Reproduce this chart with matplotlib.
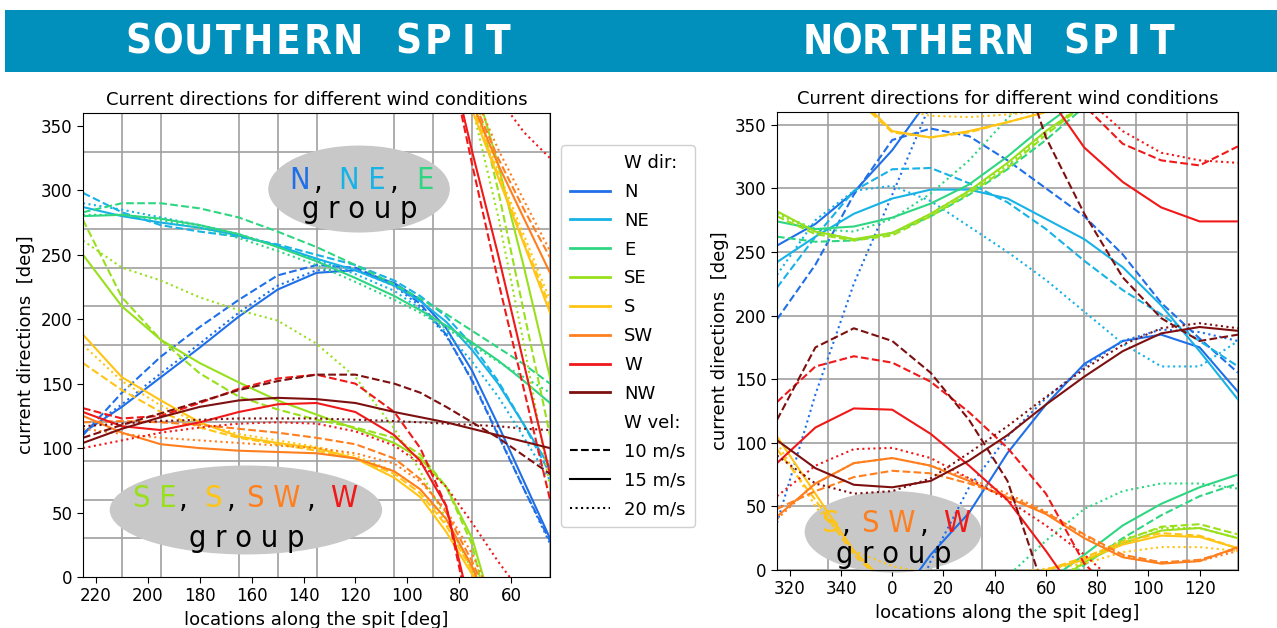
import numpy as np
import matplotlib.pyplot as plt
from matplotlib.patches import Ellipse, Rectangle
from matplotlib.lines import Line2D
from matplotlib.ticker import FuncFormatter

W, H = 1277, 628

directions = ['N', 'NE', 'E', 'SE', 'S', 'SW', 'W', 'NW']
colors = ['#1f6fe8', '#17b2e6', '#2fd682', '#98e01c', '#ffc414', '#ff7f1e', '#f01818', '#7d0f0f']
speeds = ['10 m/s', '15 m/s', '20 m/s']
styles = ['--', '-', ':']

# southern spit: locations along the spit [deg]
x_south = [225, 210, 195, 180, 165, 150, 135, 120, 105, 95, 85, 75, 65, 55, 45]
# current directions [deg], rows = 10, 15, 20 m/s (values below 0 wrap round to 360)
south_N = [[110, 143, 171, 194, 215, 234, 242, 240, 227, 212, 188, 152, 110, 68, 28],
           [112, 132, 155, 178, 202, 223, 236, 238, 228, 215, 193, 160, 118, 74, 30],
           [112, 134, 158, 181, 205, 226, 238, 238, 226, 210, 187, 153, 111, 68, 26]]
south_NE = [[298, 283, 273, 268, 264, 258, 250, 242, 230, 218, 202, 180, 152, 118, 80],
            [287, 280, 275, 271, 265, 257, 247, 238, 226, 214, 198, 176, 150, 118, 85],
            [290, 285, 279, 273, 266, 257, 246, 235, 222, 208, 190, 167, 140, 108, 75]]
south_E = [[283, 290, 290, 286, 279, 268, 256, 242, 227, 216, 204, 191, 178, 165, 150],
           [280, 281, 278, 273, 266, 256, 245, 232, 218, 207, 195, 182, 168, 152, 135],
           [281, 281, 277, 271, 263, 253, 242, 229, 215, 205, 193, 180, 167, 155, 143]]
south_SE = [[277, 217, 184, 158, 140, 130, 122, 116, 108, 95, 70, 25, -60, -155, -250],
            [250, 210, 184, 166, 151, 137, 126, 115, 104, 92, 70, 30, -40, -120, -205],
            [261, 240, 230, 217, 207, 199, 181, 155, 115, 82, 45, 5, -80, -180, -290]]
south_S = [[166, 145, 128, 116, 108, 103, 98, 92, 80, 65, 40, 5, -48, -100, -150],
           [188, 155, 137, 120, 109, 104, 100, 92, 77, 62, 35, 2, -50, -102, -155],
           [180, 152, 133, 119, 111, 106, 101, 94, 82, 68, 42, 8, -45, -95, -145]]
south_SW = [[120, 121, 120, 118, 115, 112, 108, 103, 92, 76, 50, 12, -35, -75, -112],
            [125, 112, 103, 100, 98, 97, 96, 92, 82, 68, 45, 8, -40, -82, -124],
            [115, 111, 108, 106, 104, 102, 100, 96, 88, 74, 52, 18, -28, -68, -107]]
south_W = [[131, 123, 125, 135, 146, 154, 157, 150, 128, 100, 55, -40, -130, -215, -300],
           [128, 117, 114, 120, 128, 134, 135, 128, 110, 90, 55, -30, -110, -195, -280],
           [100, 106, 112, 116, 119, 120, 119, 113, 102, 88, 70, 42, 12, -15, -35]]
south_NW = [[108, 118, 127, 136, 145, 152, 157, 157, 150, 143, 132, 120, 108, 94, 80],
            [104, 115, 124, 132, 137, 139, 138, 135, 128, 124, 120, 115, 110, 105, 100],
            [117, 119, 121, 122, 123, 123, 123, 122, 121, 120, 119, 118, 117, 115, 114]]

# northern spit: locations along the spit [deg] (-45 = 315)
x_north = [-45, -30, -15, 0, 15, 30, 45, 60, 75, 90, 105, 120, 135]
north_N = [[197, 240, 295, 338, 347, 341, 322, 300, 278, 248, 210, 182, 155],
           [255, 272, 297, 330, 372, 405, 452, 490, 522, 540, 545, 535, 500],
           [37, 138, 225, 295, 367, 425, 465, 495, 520, 540, 549, 547, 540]]
north_NE = [[222, 262, 298, 315, 316, 304, 289, 268, 243, 220, 201, 180, 160],
            [242, 262, 280, 292, 299, 299, 292, 276, 260, 238, 208, 172, 134],
            [232, 275, 298, 302, 290, 270, 250, 228, 203, 178, 160, 160, 180]]
north_E = [[262, 258, 259, 265, 278, 295, 315, 338, 364, 385, 403, 418, 428],
           [274, 268, 270, 277, 288, 303, 325, 350, 372, 395, 412, 425, 435],
           [280, 268, 266, 276, 296, 322, 355, 383, 408, 422, 428, 428, 424]]
north_SE = [[278, 264, 259, 263, 278, 296, 316, 342, 366, 383, 394, 396, 388],
            [282, 266, 260, 265, 280, 298, 320, 345, 366, 381, 391, 393, 385],
            [280, 266, 260, 264, 280, 298, 318, 344, 368, 384, 393, 393, 385]]
north_S = [[95, 55, 12, -16, -20, -16, -8, 0, 10, 22, 29, 27, 17],
           [105, 60, 15, -15, -20, -15, -8, 0, 8, 20, 27, 26, 17],
           [100, 50, 15, 3, -3, -4, -2, 1, 5, 14, 18, 18, 15]]
north_SW = [[48, 62, 73, 78, 76, 68, 58, 45, 28, 12, 6, 8, 17],
            [42, 68, 84, 88, 82, 70, 57, 44, 25, 10, 5, 7, 18],
            [40, 68, 84, 88, 82, 72, 60, 46, 27, 11, 6, 7, 15]]
north_W = [[132, 160, 168, 163, 148, 124, 96, 60, 5, -25, -38, -42, -27],
           [84, 112, 127, 126, 107, 82, 55, 15, -28, -55, -75, -86, -86],
           [58, 82, 95, 96, 88, 72, 55, 35, 12, -15, -32, -38, -40]]
north_NW = [[118, 175, 190, 180, 155, 118, 70, -20, -80, -130, -162, -180, -175],
            [102, 80, 67, 65, 70, 86, 106, 130, 152, 172, 186, 191, 188],
            [90, 68, 60, 62, 72, 92, 113, 136, 158, 177, 190, 194, 190]]

south = [south_N, south_NE, south_E, south_SE, south_S, south_SW, south_W, south_NW]
north = [north_N, north_NE, north_E, north_SE, north_S, north_SW, north_W, north_NW]

fig = plt.figure(figsize=(W / 100, H / 100), dpi=100)

# teal banner with the two spit names
fig.add_artist(Rectangle((5 / W, 1 - 72 / H), 1, 62 / H, transform=fig.transFigure,
                         facecolor='#0090bb', edgecolor='none', zorder=0))


def banner(text, x0, step):
    for i, ch in enumerate(text):
        fig.text((x0 + i * step) / W, 1 - 43 / H, ch, color='white', fontsize=29,
                 fontweight='bold', fontstretch='condensed', ha='center', va='center')


banner('SOUTHERN SPIT', 138, 30)
banner('NORTHERN SPIT', 818, 28.7)

ax1 = fig.add_axes([83 / W, 1 - 577 / H, 467 / W, 464 / H])
ax2 = fig.add_axes([777 / W, 1 - 570 / H, 461 / W, 458 / H])


def draw(ax, x, data):
    x = np.array(x)
    for c, rows in zip(colors, data):
        for ls, row in zip(styles, rows):
            y = np.array(row)
            for shift in (-360, 0, 360):
                ax.plot(x, y + shift, color=c, ls=ls, lw=1.5)


draw(ax1, x_south, south)
draw(ax2, x_north, north)

for ax in (ax1, ax2):
    ax.set_ylim(0, 360)
    ax.set_yticks(range(0, 351, 50))
    ax.tick_params(labelsize=12, length=4)
    ax.tick_params(which='minor', length=0)
    ax.set_title('Current directions for different wind conditions', fontsize=13)
    ax.set_xlabel('locations along the spit [deg]', fontsize=13)
    ax.set_ylabel('current directions  [deg]', fontsize=13)

gkw = dict(color='#a0a0a0', lw=1.2)
ax1.set_xlim(225, 45)
ax1.set_xticks(range(220, 59, -20))
ax1.set_xticks(np.arange(45, 226, 15), minor=True)
ax1.set_yticks(np.arange(0, 361, 30), minor=True)
ax1.grid(which='minor', **gkw)

ax2.set_xlim(-45, 135)
ax2.set_xticks(range(-40, 121, 20))
ax2.set_xticks(np.arange(-45, 136, 20), minor=True)
ax2.xaxis.set_major_formatter(FuncFormatter(lambda v, p: '%d' % (v % 360)))
ax2.grid(which='minor', axis='x', **gkw)
ax2.grid(which='major', axis='y', **gkw)

# grey "group" ellipses
ekw = dict(facecolor='#c8c8c8', edgecolor='none', zorder=1.6)
ax1.add_patch(Ellipse((118.6, 301), 70, 67.5, **ekw))
ax1.add_patch(Ellipse((162.2, 52), 105, 69, **ekw))
ax2.add_patch(Ellipse((0.3, 30), 69, 64, clip_on=False, **ekw))

tkw = dict(fontsize=22, fontstretch='condensed', ha='center', zorder=5)


def group_label(ax, parts, base, commas, gx, gy):
    # coloured wind directions sit on one baseline, commas between them
    for txt, px, c in parts:
        ax.text(px, base, txt, color=c, va='baseline', **tkw)
    for px in commas:
        ax.text(px, base, ',', color='k', va='baseline', **tkw)
    ax.text(gx, gy, 'g r o u p', color='black', va='center', **tkw)


group_label(ax1, [('N', 141.7, colors[0]), ('N E', 117.4, colors[1]),
                  ('E', 93.2, colors[2])], 301, [134.5, 105.0], 118.2, 285)
group_label(ax1, [('S E', 197.2, colors[3]), ('S', 174.9, colors[4]),
                  ('S W', 151.5, colors[5]), ('W', 124.5, colors[6])], 54,
            [186.3, 167.8, 137.0], 161.8, 30)
group_label(ax2, [('S', -24.3, colors[4]), ('S W', -1.5, colors[5]),
                  ('W', 25.0, colors[6])], 30, [-18.0, 12.5], 0.7, 12)

handles = ([Line2D([], [], color='none')] +
           [Line2D([], [], color=c, lw=2) for c in colors] +
           [Line2D([], [], color='none')] +
           [Line2D([], [], color='k', ls=ls, lw=1.5) for ls in styles])
labels = ['W dir:'] + directions + ['W vel:'] + speeds
fig.legend(handles, labels, loc='upper left', bbox_to_anchor=(561 / W, 1 - 145 / H),
           borderaxespad=0, fontsize=13, handlelength=2.2, labelspacing=0.6,
           borderpad=0.5, handletextpad=0.8, framealpha=1, edgecolor='#d0d0d0')

fig.savefig('out.png', dpi=100)
